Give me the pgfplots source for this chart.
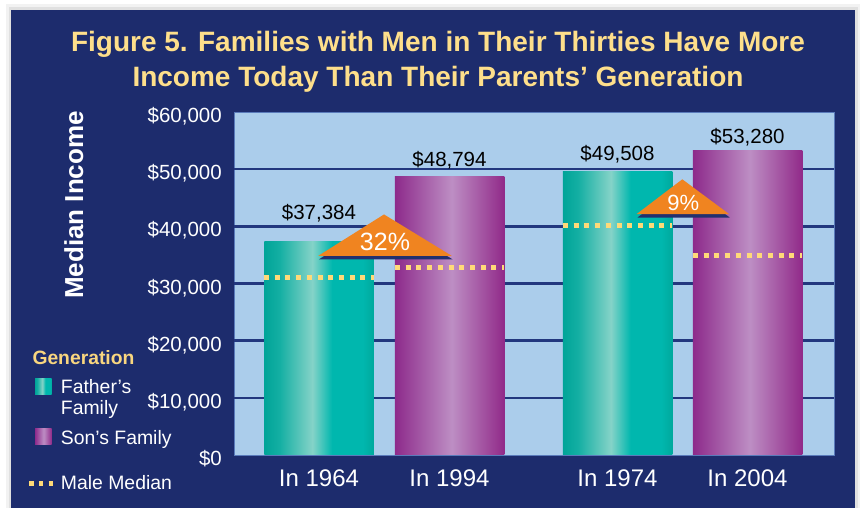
\documentclass[border=0pt]{standalone}
\usepackage{fontspec}
\setmainfont{Liberation Sans}
\usepackage{pgfplots}
\pgfplotsset{compat=1.18}

\definecolor{navy}{HTML}{1D2C6D}
\definecolor{plotbg}{HTML}{ABCDEB}
\definecolor{gridnavy}{HTML}{22377E}
\definecolor{edgeblue}{HTML}{5A7BBB}
\definecolor{titley}{HTML}{FEDF8B}
\definecolor{legy}{HTML}{F9D67F}
\definecolor{dashy}{HTML}{FFDA78}
\definecolor{triorange}{HTML}{F08420}
\definecolor{trishadow}{HTML}{23306E}
\definecolor{tealA}{HTML}{00A498}
\definecolor{tealB}{HTML}{14AFA3}
\definecolor{tealL}{HTML}{85D3C8}
\definecolor{tealC}{HTML}{00B7AE}
\definecolor{tealD}{HTML}{00A99D}
\definecolor{purA}{HTML}{8D2A8B}
\definecolor{purL}{HTML}{BD8EC4}
\definecolor{purB}{HTML}{912A89}

% bar box maps onto 25bp..75bp
\pgfdeclarehorizontalshading{tealbar}{100bp}{color(0bp)=(tealA); color(25bp)=(tealA);
  color(32bp)=(tealB); color(47bp)=(tealL); color(56bp)=(tealC); color(70bp)=(tealC);
  color(75bp)=(tealD); color(100bp)=(tealD)}
\pgfdeclarehorizontalshading{purbar}{100bp}{color(0bp)=(purA); color(25bp)=(purA);
  color(51bp)=(purL); color(75bp)=(purB); color(100bp)=(purB)}

\pgfkeys{/pgf/number format/.cd, fixed, precision=0, 1000 sep={,}, assume math mode=true}

% one bar per plot so each bar gets its own shading; #2 = label lift
\pgfplotsset{valbar/.style 2 args={ybar, bar width=1.095, bar shift=0pt, draw=none,
    shade, shading=#1,
    nodes near coords={\$\pgfmathprintnumber{\pgfplotspointmeta}},
    every node near coord/.append style={text=black, font=\fontsize{20.5}{24}\selectfont,
      anchor=base, inner sep=0pt, yshift=#2}},
  median/.style={dashy, line width=5pt, dash pattern=on 5pt off 5.7pt, mark=none}}

\begin{document}
\begin{tikzpicture}[x=1pt,y=1pt]
\path[use as bounding box] (0,0) rectangle (861,508);
\fill[white] (0,0) rectangle (861,508);
\fill[black!5] (6,0) rectangle (860,504);
\fill[black!12] (9,0) rectangle (858,501);
\fill[navy] (11,0) rectangle (855,498);

\node[anchor=base, text=titley, font=\bfseries\fontsize{28}{34}\selectfont]
  at (438,456.3) {Figure 5. Families with Men in Their Thirties Have More};
\node[anchor=base, text=titley, font=\bfseries\fontsize{28}{34}\selectfont]
  at (438,421.3) {Income Today Than Their Parents’ Generation};

\node[rotate=90, anchor=base, text=white, font=\bfseries\fontsize{26}{30}\selectfont]
  at (83,303) {Median Income};

\begin{axis}[
  at={(234pt,53pt)}, anchor=south west,
  scale only axis, width=600pt, height=343pt,
  xmin=0, xmax=6, ymin=0, ymax=60000,
  axis background/.style={fill=plotbg},
  axis line style={draw=edgeblue, line width=0.8pt},
  xtick={0.85,2.155,3.835,5.135},
  xticklabels={In 1964, In 1994, In 1974, In 2004},
  ytick={0,10000,...,60000},
  scaled y ticks=false,
  yticklabel={\$\pgfmathprintnumber{\tick}},
  major tick length=0pt,
  extra y ticks={10000,20000,30000,40000,50000},
  extra y tick labels={},
  extra y tick style={grid=major},
  major grid style={draw=gridnavy, line width=2.5pt},
  xticklabel style={text=white, font=\fontsize{24}{28}\selectfont, anchor=base, yshift=-31.7pt, inner sep=0pt},
  yticklabel style={text=white, font=\fontsize{20.5}{24}\selectfont, anchor=base east, xshift=-12pt, yshift=-10.5pt, inner sep=0pt},
  clip=false,
]
% Father's family / Son's family bars
\addplot[valbar={tealbar}{21.3pt}] coordinates {(0.85,37384)};
\addplot[valbar={purbar}{9.3pt}] coordinates {(2.155,48794)};
\addplot[valbar={tealbar}{11.3pt}] coordinates {(3.835,49508)};
\addplot[valbar={purbar}{7.1pt}] coordinates {(5.135,53280)};

% male median
\addplot[median] coordinates {(0.30,31010) (1.40,31010)};
\addplot[median] coordinates {(1.61,32880) (2.70,32880)};
\addplot[median] coordinates {(3.29,40230) (4.38,40230)};
\addplot[median] coordinates {(4.59,34860) (5.68,34860)};

% growth triangles
\addplot[fill=trishadow, draw=none, mark=none] coordinates {(0.85,34230) (1.505,41470) (2.185,34230)} -- cycle;
\addplot[fill=triorange, draw=none, mark=none] coordinates {(0.843,34840) (1.50,42080) (2.177,34840)} -- cycle;
\addplot[fill=trishadow, draw=none, mark=none] coordinates {(4.035,41545) (4.488,47615) (4.957,41545)} -- cycle;
\addplot[fill=triorange, draw=none, mark=none] coordinates {(4.027,42155) (4.483,48225) (4.95,42155)} -- cycle;
\node[anchor=base, text=white, font=\fontsize{25}{30}\selectfont] at (axis cs:1.51,35735) {32\%};
\node[anchor=base, text=white, font=\fontsize{22}{26}\selectfont] at (axis cs:4.493,42730) {9\%};
\end{axis}

% legend
\node[anchor=base west, inner sep=0pt, text=legy, font=\bfseries\fontsize{19.3}{23}\selectfont] at (32.3,143) {Generation};
\shade[shading=tealbar] (35,113) rectangle (51.7,129.7);
\node[anchor=base west, inner sep=0pt, text=white, font=\fontsize{19.4}{23}\selectfont] at (60.7,114.7) {Father’s};
\node[anchor=base west, inner sep=0pt, text=white, font=\fontsize{19.4}{23}\selectfont] at (60.7,93) {Family};
\shade[shading=purbar] (35,63) rectangle (51.7,79.7);
\node[anchor=base west, inner sep=0pt, text=white, font=\fontsize{19.4}{23}\selectfont] at (60.7,63) {Son’s Family};
\draw[dashy, line width=5pt, dash pattern=on 4.5pt off 5.3pt] (29,24) -- (56,24);
\node[anchor=base west, inner sep=0pt, text=white, font=\fontsize{19.4}{23}\selectfont] at (60.7,18) {Male Median};
\end{tikzpicture}
\end{document}
